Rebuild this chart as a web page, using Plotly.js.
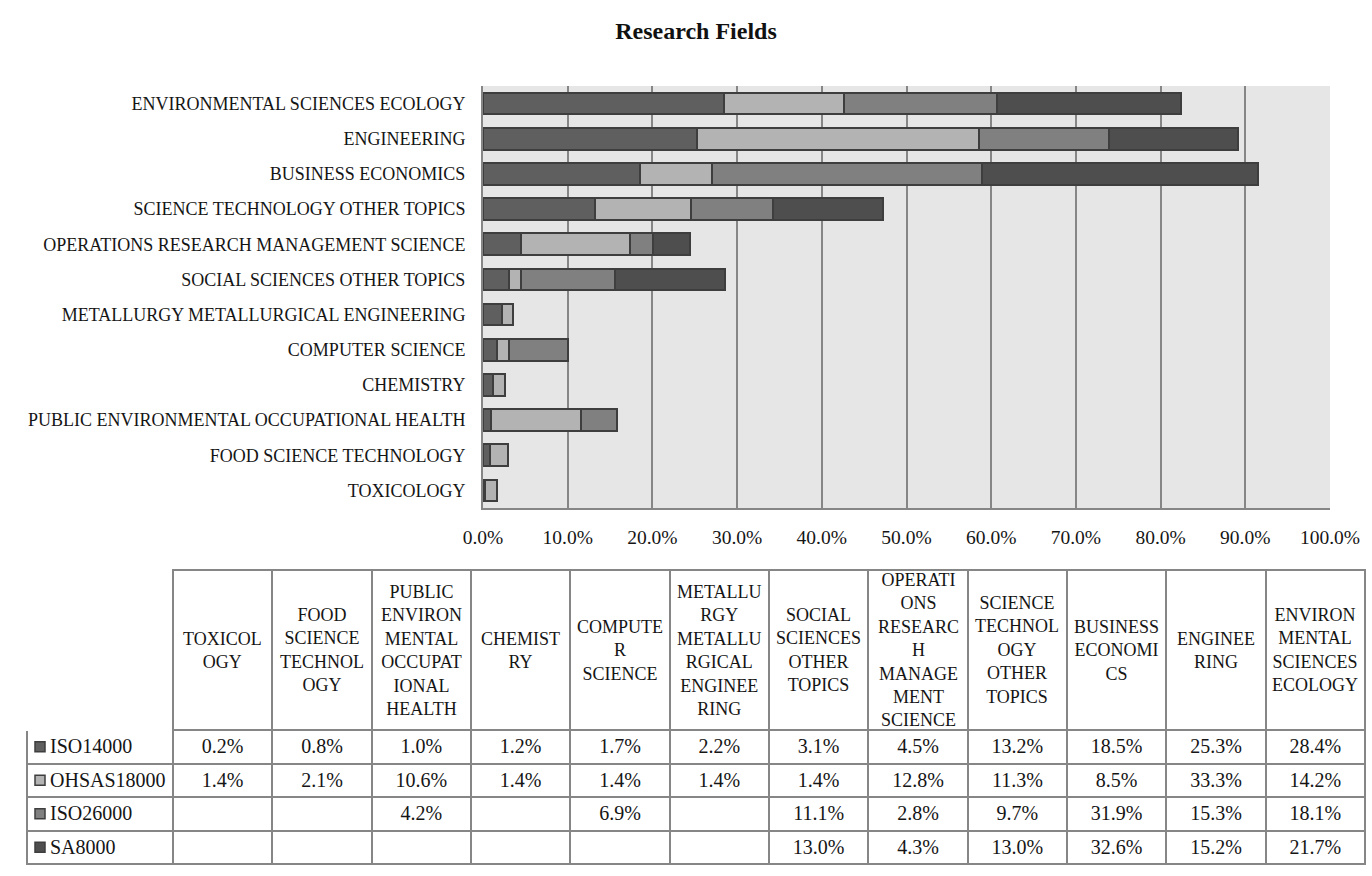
<!DOCTYPE html>
<html>
<head>
<meta charset="utf-8">
<script src="https://cdn.plot.ly/plotly-3.0.1.min.js"></script>
<style>
  html, body { margin: 0; padding: 0; background: #fff; }
  #chart { width: 1372px; height: 876px; }
</style>
</head>
<body>
<div id="chart"></div>
<script>
// categories, bottom to top (same order as the table columns)
const fields = [
  'TOXICOLOGY',
  'FOOD SCIENCE TECHNOLOGY',
  'PUBLIC ENVIRONMENTAL OCCUPATIONAL HEALTH',
  'CHEMISTRY',
  'COMPUTER SCIENCE',
  'METALLURGY METALLURGICAL ENGINEERING',
  'SOCIAL SCIENCES OTHER TOPICS',
  'OPERATIONS RESEARCH MANAGEMENT SCIENCE',
  'SCIENCE TECHNOLOGY OTHER TOPICS',
  'BUSINESS ECONOMICS',
  'ENGINEERING',
  'ENVIRONMENTAL SCIENCES ECOLOGY'
];

// how the table header wraps each field name
const headerLabels = [
  'TOXICOL<br>OGY',
  'FOOD<br>SCIENCE<br>TECHNOL<br>OGY',
  'PUBLIC<br>ENVIRON<br>MENTAL<br>OCCUPAT<br>IONAL<br>HEALTH',
  'CHEMIST<br>RY',
  'COMPUTE<br>R<br>SCIENCE',
  'METALLU<br>RGY<br>METALLU<br>RGICAL<br>ENGINEE<br>RING',
  'SOCIAL<br>SCIENCES<br>OTHER<br>TOPICS',
  'OPERATI<br>ONS<br>RESEARC<br>H<br>MANAGE<br>MENT<br>SCIENCE',
  'SCIENCE<br>TECHNOL<br>OGY<br>OTHER<br>TOPICS',
  'BUSINESS<br>ECONOMI<br>CS',
  'ENGINEE<br>RING',
  'ENVIRON<br>MENTAL<br>SCIENCES<br>ECOLOGY'
];

const seriesNames = ['ISO14000', 'OHSAS18000', 'ISO26000', 'SA8000'];

// percent values
const iso14000   = [0.2, 0.8, 1.0, 1.2, 1.7, 2.2, 3.1, 4.5, 13.2, 18.5, 25.3, 28.4];
const ohsas18000 = [1.4, 2.1, 10.6, 1.4, 1.4, 1.4, 1.4, 12.8, 11.3, 8.5, 33.3, 14.2];
const iso26000   = [null, null, 4.2, null, 6.9, null, 11.1, 2.8, 9.7, 31.9, 15.3, 18.1];
const sa8000     = [null, null, null, null, null, null, 13.0, 4.3, 13.0, 32.6, 15.2, 21.7];

const xTicks = [0, 10, 20, 30, 40, 50, 60, 70, 80, 90, 100];

const series = [iso14000, ohsas18000, iso26000, sa8000];
const colors = ['#5f5f5f', '#b3b3b3', '#808080', '#4e4e4e'];

const W = 1372, H = 876;
const serif = 'Liberation Serif, Times New Roman, serif';
const gridGray = '#868686';
const ink = '#151515';

// stacked bars
const traces = series.map((vals, i) => ({
  type: 'bar',
  orientation: 'h',
  name: seriesNames[i],
  y: fields,
  x: vals,
  marker: { color: colors[i], line: { color: '#3e3e3e', width: 2 } },
  xaxis: 'x',
  yaxis: 'y',
  hoverinfo: 'name+x'
}));

// data table under the chart
const tableLeft = 27, tableRight = 1365, firstCol = 146;
const colW = (tableRight - tableLeft - firstCol) / fields.length;
const headerH = 160, rowH = 33.5, tableTop = 570;
const tableBottom = tableTop + headerH + rowH * seriesNames.length;

const fmt = v => (v == null ? '' : v.toFixed(1) + '%');
const pad = '\u00a0\u00a0\u00a0';
const cellCols = [seriesNames.map(n => pad + n)]
  .concat(fields.map((f, j) => series.map(s => fmt(s[j]))));

traces.push({
  type: 'table',
  // a few spare pixels below so the last border line is not clipped
  domain: { x: [tableLeft / W, tableRight / W], y: [1 - (tableBottom + 4) / H, 1 - tableTop / H] },
  columnwidth: [firstCol].concat(fields.map(() => colW)),
  header: {
    values: [''].concat(fields.map(() => '')),
    height: headerH,
    fill: { color: 'white' },
    line: { color: ['white'].concat(fields.map(() => gridGray)), width: 2 }
  },
  cells: {
    values: cellCols,
    height: rowH,
    align: ['left'].concat(fields.map(() => 'center')),
    fill: { color: 'white' },
    line: { color: gridGray, width: 2 },
    font: { family: serif, size: 20, color: ink }
  }
});

// header text, vertically centred in each header cell
const headerAnnotations = headerLabels.map((lab, i) => ({
  text: lab,
  xref: 'paper', yref: 'paper',
  x: (tableLeft + firstCol + colW * (i + 0.5)) / W,
  y: 1 - (tableTop + headerH / 2) / H,
  xanchor: 'center', yanchor: 'middle',
  align: 'center', valign: 'middle',
  showarrow: false,
  font: { family: serif, size: 18, color: ink }
}));

// legend keys in the first table column
const keyShapes = seriesNames.map((n, i) => {
  const cy = tableTop + headerH + rowH * (i + 0.5);
  return {
    type: 'rect', xref: 'paper', yref: 'paper',
    x0: 35 / W, x1: 45 / W,
    y0: 1 - (cy + 5) / H, y1: 1 - (cy - 5) / H,
    fillcolor: colors[i],
    line: { color: '#3e3e3e', width: 1.5 }
  };
});

const layout = {
  width: W, height: H,
  margin: { l: 0, r: 0, t: 0, b: 0 },
  paper_bgcolor: 'white',
  plot_bgcolor: '#e6e6e6',
  showlegend: false,
  barmode: 'stack',
  bargap: 0.38,
  title: {
    text: '<b>Research Fields</b>',
    x: 696 / W, xanchor: 'center',
    y: 1 - 31 / H, yanchor: 'middle',
    font: { family: serif, size: 24, color: '#111' }
  },
  font: { family: serif, size: 18, color: ink },
  xaxis: {
    domain: [483 / W, 1330 / W],
    range: [0, 100],
    tickvals: xTicks,
    ticktext: xTicks.map(t => t.toFixed(1) + '%'),
    showgrid: true, gridcolor: gridGray, gridwidth: 2,
    showline: true, linecolor: gridGray, linewidth: 2,
    zeroline: false,
    ticks: '',
    ticklabelstandoff: 11,
    tickfont: { family: serif, size: 19.5, color: ink },
    fixedrange: true
  },
  yaxis: {
    domain: [1 - 508 / H, 1 - 86 / H],
    type: 'category',
    showgrid: false,
    showline: true, linecolor: gridGray, linewidth: 2,
    ticks: '',
    ticklabelstandoff: 12,
    tickfont: { family: serif, size: 18, color: ink },
    fixedrange: true
  },
  shapes: keyShapes,
  annotations: headerAnnotations
};

Plotly.newPlot('chart', traces, layout, { displayModeBar: false, staticPlot: true });
</script>
</body>
</html>
